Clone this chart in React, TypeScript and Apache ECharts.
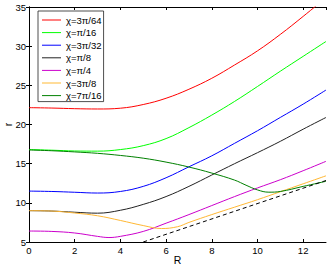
import React, { useEffect, useRef } from 'react';
import * as echarts from 'echarts';

const seriesNames = ['χ=3π/64', 'χ=π/16', 'χ=3π/32', 'χ=π/8', 'χ=π/4', 'χ=3π/8', 'χ=7π/16'];

const redR = [0, 1, 2, 3, 4, 5, 6, 7, 8, 9, 10, 11, 12, 13];
const redY = [22.15, 22.1, 22.02, 21.98, 22.08, 22.55, 23.35, 24.5, 25.9, 27.6, 29.4, 31.5, 33.8, 36.2];

const greenR = [0, 1, 2, 3, 4, 5, 6, 7, 8, 9, 10, 11, 12, 13];
const greenY = [16.8, 16.72, 16.62, 16.6, 16.8, 17.3, 18.2, 19.6, 21.2, 22.95, 24.85, 26.8, 28.7, 30.6];

const blueR = [0, 1, 2, 3, 4, 5, 6, 7, 8, 9, 10, 11, 12, 13];
const blueY = [11.5, 11.45, 11.35, 11.25, 11.45, 12.1, 13.2, 14.6, 16.0, 17.6, 19.2, 20.9, 22.6, 24.4];

const blackR = [0, 1, 2, 3, 4, 5, 6, 7, 8, 9, 10, 11, 12, 13];
const blackY = [9.0, 8.95, 8.8, 8.68, 9.05, 9.8, 10.8, 12.1, 13.55, 15.0, 16.4, 17.85, 19.4, 20.9];

const magentaR = [0, 1, 2, 3, 3.5, 4, 5, 6, 7, 8, 9, 10, 11, 12, 13];
const magentaY = [6.4, 6.35, 6.15, 5.72, 5.57, 5.72, 6.35, 7.4, 8.5, 9.65, 10.8, 11.9, 12.95, 14.1, 15.3];

const orangeR = [0, 1, 2, 3, 4, 5, 5.8, 6.5, 7, 8, 9, 10, 11, 12, 13];
const orangeY = [9.0, 8.95, 8.7, 8.35, 7.75, 7.1, 6.72, 6.95, 7.5, 8.5, 9.45, 10.4, 11.42, 12.43, 13.45];

const dkGreenR = [0, 1, 2, 3, 4, 5, 6, 7, 8, 9, 9.5, 10, 10.5, 11, 12, 13];
const dkGreenY = [16.75, 16.65, 16.5, 16.32, 16.05, 15.7, 15.2, 14.57, 13.8, 12.9, 12.25, 11.65, 11.36, 11.45, 12.1, 12.75];

const dashR = [5, 13];
const dashY = [5, 12.85];

const xTicks = { min: 0, max: 13, interval: 2 };
const yTicks = { min: 5, max: 35, interval: 5 };

const zip = (xs: number[], ys: number[]) => xs.map((x, i) => [x, ys[i]]);

const FONT = 'Liberation Sans, Arial, Helvetica, sans-serif';

export default function App() {
  const ref = useRef<HTMLDivElement>(null);
  useEffect(() => {
    const chart = echarts.init(ref.current!, null, { renderer: 'svg' });
    const lineSeries = (name: string, color: string, xs: number[], ys: number[], z: number) => ({
      name,
      type: 'line',
      data: zip(xs, ys),
      showSymbol: false,
      smooth: 0.4,
      clip: true,
      z,
      lineStyle: { color, width: 1 },
      itemStyle: { color },
    });
    const axisCommon = {
      axisLine: { show: true, lineStyle: { color: '#000', width: 1 } },
      axisTick: { show: true, inside: true, length: 3, lineStyle: { color: '#000' } },
      splitLine: { show: false },
    };
    chart.setOption({
      animation: false,
      backgroundColor: '#fff',
      grid: { left: 29, right: 6, top: 7, bottom: 26, containLabel: false, outerBoundsMode: 'none' },
      legend: {
        orient: 'vertical',
        left: 38,
        top: 11,
        icon: 'rect',
        itemWidth: 19,
        itemHeight: 1,
        itemGap: 0.6,
        padding: [3, 2, 0, 4],
        borderColor: '#222',
        borderWidth: 0.8,
        backgroundColor: '#fff',
        data: seriesNames,
        textStyle: { fontFamily: FONT, fontSize: 9.5, lineHeight: 12, color: '#000' },
      },
      xAxis: [
        {
          type: 'value',
          ...xTicks,
          position: 'bottom',
          name: 'R',
          nameLocation: 'middle',
          nameGap: 12,
          nameMoveOverlap: false,
          nameTextStyle: { fontFamily: FONT, fontSize: 10.5, color: '#000' },
          ...axisCommon,
          axisLabel: { fontFamily: FONT, fontSize: 9.5, color: '#000', margin: 3, showMaxLabel: false },
        },
        {
          type: 'value',
          ...xTicks,
          position: 'top',
          ...axisCommon,
          axisLabel: { show: false },
        },
      ],
      yAxis: [
        {
          type: 'value',
          ...yTicks,
          position: 'left',
          name: 'r',
          nameLocation: 'middle',
          nameGap: 15.5,
          nameMoveOverlap: false,
          nameTextStyle: { fontFamily: FONT, fontSize: 10.5, color: '#000' },
          ...axisCommon,
          axisLabel: { fontFamily: FONT, fontSize: 9.5, color: '#000', margin: 3 },
        },
        {
          type: 'value',
          ...yTicks,
          position: 'right',
          ...axisCommon,
          axisLabel: { show: false },
        },
      ],
      series: [
        lineSeries(seriesNames[0], '#ff0000', redR, redY, 2),
        lineSeries(seriesNames[1], '#00ff00', greenR, greenY, 2),
        lineSeries(seriesNames[2], '#0000ff', blueR, blueY, 2),
        lineSeries(seriesNames[3], '#222222', blackR, blackY, 2),
        lineSeries(seriesNames[4], '#cc00cc', magentaR, magentaY, 2),
        lineSeries(seriesNames[5], '#ffb833', orangeR, orangeY, 2),
        lineSeries(seriesNames[6], '#008000', dkGreenR, dkGreenY, 2),
        {
          type: 'line',
          data: zip(dashR, dashY),
          showSymbol: false,
          clip: true,
          lineStyle: { color: '#000', width: 1, type: [4, 3] },
          itemStyle: { color: '#000' },
        },
      ],
    });
    return () => chart.dispose();
  }, []);
  return (
    <div
      ref={ref}
      style={{ position: 'fixed', left: 0, top: 0, width: 332, height: 268, background: '#fff' }}
    />
  );
}
